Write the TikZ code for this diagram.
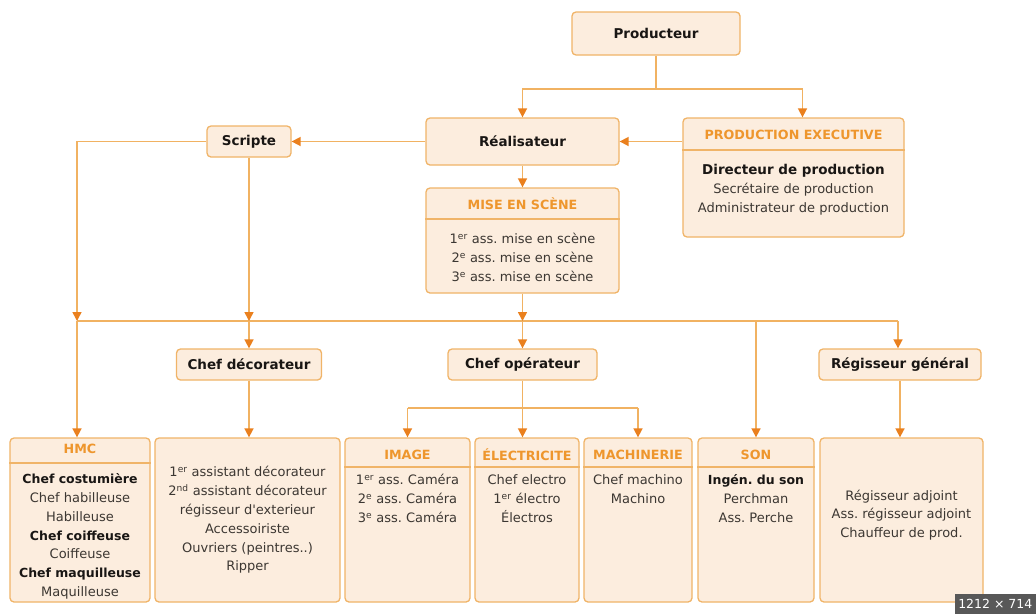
\documentclass[tikz,border=0pt]{standalone}
\usepackage{fontspec}
\setmainfont{DejaVu Sans}
\usetikzlibrary{arrows.meta}

\definecolor{boxfill}{RGB}{252,237,222}
\definecolor{boxline}{RGB}{240,180,104}
\definecolor{linkc}{RGB}{241,178,98}
\definecolor{tipc}{RGB}{234,128,30}
\definecolor{headtxt}{RGB}{238,150,45}
\definecolor{txt}{RGB}{25,22,20}
\definecolor{graytxt}{RGB}{60,55,50}
\definecolor{badgebg}{RGB}{88,88,88}

\newcommand{\keyrole}[1]{{\bfseries\fontsize{12.5}{18.8}\selectfont\color{txt}#1}}
\frenchspacing

\begin{document}
\begin{tikzpicture}[
    x=1pt, y=-1pt,
    box/.style={draw=boxline, fill=boxfill, rounded corners=4pt, line width=1.3pt, inner sep=0pt},
    role/.style={box, font=\bfseries\fontsize{13.5}{16}\selectfont, text=txt},
    teambox/.style={box},
    head/.style={font=\bfseries\fontsize{12.7}{14}\selectfont, text=headtxt, inner sep=0pt},
    body/.style={align=center, font=\fontsize{13}{18.8}\selectfont, text=graytxt, inner sep=0pt},
    sep/.style={draw=boxline, line width=1.3pt},
    link/.style={draw=linkc, line width=1.6pt},
    arrow/.style={link, -{Triangle[length=9pt,width=9pt,color=tipc]}}
]

\useasboundingbox[fill=white] (0,0) rectangle (1036,614);

% Top
\node[role, minimum width=168pt, minimum height=43pt] (prod) at (656,33.5) {Producteur};
\node[role, minimum width=193pt, minimum height=47pt] (real) at (522.5,141.5) {Réalisateur};
\node[role, minimum width=84pt, minimum height=31pt] (scripte) at (249,141.5) {Scripte};

% Production executive
\node[teambox, minimum width=221pt, minimum height=119pt] (prodexec) at (793.5,177.5) {};
\node[head] (prodexect) at (793.5,135) {PRODUCTION EXECUTIVE};
\draw[sep] (prodexec.west |- 0,150) -- (prodexec.east |- 0,150);
\node[body] (prodexecb) at (793.5,190) {{\bfseries\fontsize{13.5}{18.8}\selectfont\color{txt}Directeur de production}\\Secrétaire de production\\Administrateur de production};

% Mise en scene
\node[teambox, minimum width=193pt, minimum height=105pt] (mes) at (522.5,240.5) {};
\node[head] (mest) at (522.5,204) {MISE EN SCÈNE};
\draw[sep] (mes.west |- 0,219) -- (mes.east |- 0,219);
\node[body] (mesb) at (522.5,257.5) {1\textsuperscript{er} ass. mise en scène\\2\textsuperscript{e} ass. mise en scène\\3\textsuperscript{e} ass. mise en scène};

% Middle row
\node[role, minimum width=145pt, minimum height=31pt] (chefdeco) at (249,364.5) {Chef décorateur};
\node[role, minimum width=149pt, minimum height=31pt] (chefop) at (522.5,364.5) {Chef opérateur};
\node[role, minimum width=162pt, minimum height=31pt] (reggen) at (900,364.5) {Régisseur général};

% Bottom row
\node[teambox, minimum width=140pt, minimum height=164pt] (hmc) at (80,520) {};
\node[head] (hmct) at (80,449) {HMC};
\draw[sep] (hmc.west |- 0,463) -- (hmc.east |- 0,463);
\node[body] (hmcb) at (80,536.5) {\keyrole{Chef costumière}\\Chef habilleuse\\Habilleuse\\\keyrole{Chef coiffeuse}\\Coiffeuse\\\keyrole{Chef maquilleuse}\\Maquilleuse};

\node[teambox, minimum width=185pt, minimum height=164pt] (decor) at (247.5,520) {};
\node[body] (decorb) at (247.5,520) {1\textsuperscript{er} assistant décorateur\\2\textsuperscript{nd} assistant décorateur\\régisseur d\textquotesingle exterieur\\Accessoiriste\\Ouvriers (peintres..)\\Ripper};

\node[teambox, minimum width=125pt, minimum height=164pt] (image) at (407.5,520) {};
\node[head] (imaget) at (407.5,455) {IMAGE};
\draw[sep] (image.west |- 0,467) -- (image.east |- 0,467);
\node[body] (imageb) at (407.5,498.5) {1\textsuperscript{er} ass. Caméra\\2\textsuperscript{e} ass. Caméra\\3\textsuperscript{e} ass. Caméra};

\node[teambox, minimum width=104pt, minimum height=164pt] (elec) at (527,520) {};
\node[head] (elect) at (527,455) {ÉLECTRICITE};
\draw[sep] (elec.west |- 0,467) -- (elec.east |- 0,467);
\node[body] (elecb) at (527,498.5) {Chef electro\\1\textsuperscript{er} électro\\Électros};

\node[teambox, minimum width=108pt, minimum height=164pt] (mach) at (638,520) {};
\node[head] (macht) at (638,455) {MACHINERIE};
\draw[sep] (mach.west |- 0,467) -- (mach.east |- 0,467);
\node[body] (machb) at (638,489) {Chef machino\\Machino};

\node[teambox, minimum width=116pt, minimum height=164pt] (son) at (756,520) {};
\node[head] (sont) at (756,455) {SON};
\draw[sep] (son.west |- 0,467) -- (son.east |- 0,467);
\node[body] (sonb) at (756,498.5) {\keyrole{Ingén. du son}\\Perchman\\Ass. Perche};

\node[teambox, minimum width=163pt, minimum height=164pt] (regbox) at (901.5,520) {};
\node[body] (regb) at (901.5,515) {Régisseur adjoint\\Ass. régisseur adjoint\\Chauffeur de prod.};

% Connections from the top
\coordinate (pj) at (656,89);
\draw[link] (prod.south) -- (pj);
\draw[arrow] (pj) -| (real.north);
\draw[arrow] (pj) -| ([xshift=9pt]prodexec.north);
\draw[arrow] (real.east -| prodexec.west) -- (real.east);
\draw[arrow] (real.west) -- (scripte.east);
\draw[arrow] (real.south) -- (mes.north);

% Main bus
\coordinate (busl) at (77,321);
\coordinate (busr) at (898,321);
\draw[link] (busl) -- (busr);
\draw[arrow] (scripte.west) -| (busl);
\draw[arrow] (busl) -- (busl |- hmc.north);
\draw[arrow] (scripte.south) -- (scripte.south |- busl);
\draw[arrow] (scripte.south |- busl) -- (chefdeco.north);
\draw[arrow] (mes.south) -- (mes.south |- busl);
\draw[arrow] (mes.south |- busl) -- (chefop.north);
\draw[arrow] (busr) -- (busr |- reggen.north);
\draw[arrow] (busl -| son.north) -- (son.north);

% Chef operateur branches
\coordinate (oj) at (522.5,408);
\draw[link] (chefop.south) -- (oj);
\draw[link] (oj -| image.north) -- (oj -| mach.north);
\draw[arrow] (oj -| image.north) -- (image.north);
\draw[arrow] (oj) -- (oj |- elec.north);
\draw[arrow] (oj -| mach.north) -- (mach.north);

% Down to the teams
\draw[arrow] (chefdeco.south) -- (chefdeco.south |- decor.north);
\draw[arrow] (reggen.south) -- (reggen.south |- regbox.north);

% Size badge
\node[fill=badgebg, text=white, font=\fontsize{12.5}{14}\selectfont, minimum width=81pt, minimum height=20pt, inner sep=0pt, anchor=south east] (badge) at (1036,614) {1212 × 714};

\end{tikzpicture}
\end{document}
